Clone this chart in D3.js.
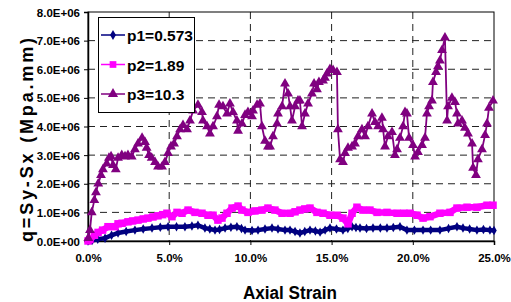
<!DOCTYPE html>
<html><head><meta charset="utf-8">
<script src="https://cdn.jsdelivr.net/npm/d3@7/dist/d3.min.js"></script>
<style>body{margin:0;background:#fff}svg{display:block}text{font-family:Arial,"Liberation Sans",sans-serif;font-weight:bold}</style>
</head><body><svg id="c" width="511" height="302"></svg>
<script>
const xTicks = [0, 5, 10, 15, 20, 25];
const xTickLabels = ["0.0%", "5.0%", "10.0%", "15.0%", "20.0%", "25.0%"];
const yTicks = [0, 1, 2, 3, 4, 5, 6, 7, 8];
const yTickLabels = ["0.0E+00","1.0E+06","2.0E+06","3.0E+06","4.0E+06","5.0E+06","6.0E+06","7.0E+06","8.0E+06"];
const seriesNames = ["p1=0.573", "p2=1.89", "p3=10.3"];
// strain (%) values
const p1Strain = [0,0.25,0.6,1.05,1.45,1.85,2.35,2.89,3.4,3.94,4.45,4.93,5.45,5.97,6.4,6.77,7.2,7.5,7.82,8.1,8.44,8.8,9.17,9.45,9.67,10.1,10.47,10.9,11.33,11.7,12.13,12.44,12.75,13.05,13.35,13.67,14.0,14.29,14.6,14.9,15.3,15.7,16.0,16.26,16.5,16.75,17.15,17.55,18.0,18.41,18.8,19.21,19.64,20.1,20.63,21.1,21.67,22.2,22.72,23.09,23.5,23.95,24.35,24.75,25.0];
const p1Val = [0,0.02,0.06,0.1,0.2,0.28,0.33,0.38,0.42,0.45,0.48,0.5,0.5,0.5,0.52,0.55,0.45,0.42,0.38,0.4,0.45,0.48,0.5,0.44,0.38,0.37,0.38,0.42,0.45,0.42,0.38,0.38,0.33,0.28,0.33,0.38,0.35,0.31,0.38,0.45,0.42,0.38,0.44,0.5,0.47,0.45,0.44,0.45,0.45,0.45,0.47,0.5,0.38,0.38,0.38,0.38,0.38,0.44,0.5,0.45,0.42,0.38,0.4,0.38,0.37];
const p2Strain = [0,0.12,0.4,0.62,0.9,1.23,1.66,1.85,2.1,2.46,2.75,3.08,3.4,3.69,4.0,4.31,4.6,4.86,5.17,5.48,5.79,6.16,6.59,7.02,7.39,7.7,8.0,8.25,8.56,8.87,9.24,9.48,9.85,10.28,10.71,11.08,11.51,11.95,12.44,12.75,13.05,13.35,13.67,14.1,14.47,14.9,15.33,15.7,16.01,16.26,16.56,16.93,17.36,17.8,18.41,19.03,19.45,19.83,20.26,20.63,21.06,21.67,22.29,22.72,23.34,23.95,24.57,24.94];
const p2Val = [0,0.05,0.2,0.3,0.38,0.5,0.5,0.6,0.62,0.67,0.7,0.73,0.77,0.8,0.84,0.88,0.92,0.97,0.85,1.0,0.97,1.08,1.0,0.97,0.9,0.9,0.73,0.8,0.97,1.15,1.22,1.08,1.0,1.05,1.08,1.15,1.08,0.97,0.97,1.02,1.08,1.12,1.15,1.0,0.97,0.9,0.9,0.8,0.6,0.97,1.18,1.08,1.08,1.0,1.0,0.97,0.97,0.97,0.9,0.8,0.85,0.97,1.0,1.15,1.18,1.18,1.25,1.25];
const p3Strain = [0.02,0.12,0.23,0.39,0.49,0.63,0.8,0.92,1.15,1.29,1.42,1.54,1.71,1.85,2.08,2.28,2.46,2.69,2.89,3.08,3.33,3.51,3.61,3.76,3.92,4.13,4.31,4.56,4.74,4.93,5.11,5.3,5.48,5.67,5.85,6.1,6.28,6.47,6.77,7.02,7.08,7.33,7.51,7.7,7.94,8.07,8.31,8.56,8.74,8.93,9.17,9.24,9.48,9.67,9.85,10.1,10.16,10.41,10.59,10.71,10.9,11.08,11.21,11.39,11.64,11.7,11.95,12.13,12.32,12.44,12.56,12.75,12.93,13.05,13.18,13.36,13.55,13.79,13.92,14.1,14.22,14.47,14.59,14.72,14.9,15.09,15.33,15.39,15.52,15.7,15.83,16.01,16.26,16.44,16.63,16.87,17.06,17.24,17.49,17.67,17.86,18.1,18.17,18.29,18.47,18.72,18.9,19.03,19.21,19.4,19.52,19.64,19.77,20.01,20.14,20.32,20.57,20.75,20.87,21.0,21.18,21.24,21.43,21.55,21.67,21.8,21.98,22.11,22.17,22.41,22.6,22.72,22.78,23.03,23.21,23.4,23.65,23.71,23.89,24.01,24.26,24.45,24.57,24.69,24.94];
const p3Val = [0.1,0.38,1.0,1.43,1.7,2.0,2.3,2.5,2.7,2.9,2.95,2.65,2.5,2.9,3.0,2.95,3.0,2.95,3.2,3.4,3.6,3.45,3.25,3.0,2.9,2.75,2.6,2.6,2.75,3.07,3.3,3.4,3.65,3.9,4.05,3.9,4.2,4.55,4.75,4.5,4.2,4.0,3.75,4.0,4.35,4.75,4.7,4.45,4.8,4.5,4.2,3.85,4.1,4.4,4.5,4.35,4.55,4.75,4.8,4.0,3.5,3.3,3.3,3.65,4.1,4.45,4.7,5.5,5.15,4.7,4.2,4.7,4.9,4.9,4.0,4.45,4.8,5.15,5.5,5.3,5.55,5.6,5.7,5.85,6.0,5.97,5.9,3.9,2.85,2.75,3.07,3.25,3.3,3.4,3.65,3.9,3.65,4.0,4.45,4.15,4.0,4.3,3.9,3.3,3.65,3.8,3.0,3.2,3.6,4.0,4.5,4.45,3.6,3.35,2.95,3.1,3.35,3.6,4.45,4.7,4.9,5.55,5.9,6.1,6.3,6.67,7.1,4.2,4.7,5.0,4.85,4.45,4.1,4.2,3.95,3.75,3.4,2.55,2.3,2.85,3.2,3.7,4.1,4.65,4.9];
const colors = ["#000080", "#FF00FF", "#800080"];

const svg = d3.select("#c");
const L = 88, R = 494, T = 12, B = 241;
const x = d3.scaleLinear().domain([0, 25]).range([L, R]);
const y = d3.scaleLinear().domain([0, 8]).range([B, T]);

// gridlines
svg.append("g").selectAll("line").data(yTicks.slice(1, -1)).join("line")
  .attr("x1", L).attr("x2", R).attr("y1", d => y(d)).attr("y2", d => y(d))
  .attr("stroke", "#222").attr("stroke-width", 1).attr("stroke-dasharray", "7,5");
svg.append("g").selectAll("line").data(xTicks.slice(1, -1)).join("line")
  .attr("y1", T).attr("y2", B).attr("x1", d => x(d)).attr("x2", d => x(d))
  .attr("stroke", "#222").attr("stroke-width", 1).attr("stroke-dasharray", "7,5");

// frame
svg.append("rect").attr("x", L).attr("y", T).attr("width", R - L).attr("height", B - T)
  .attr("fill", "none").attr("stroke", "#000").attr("stroke-width", 1);

// axes
const yAxis = d3.axisLeft(y).tickValues(yTicks).tickSize(4).tickFormat((d, i) => yTickLabels[i]);
const gy = svg.append("g").attr("transform", `translate(${L},0)`).call(yAxis);
gy.select(".domain").attr("stroke", "#000").attr("stroke-width", 1.5);
gy.selectAll("text").attr("font-size", "11.5px").attr("fill", "#000").attr("dx", "-1").attr("dy", "0.35em").attr("y", 0);
const xAxis = d3.axisBottom(x).tickValues(xTicks).tickSize(4).tickFormat((d, i) => xTickLabels[i]);
const gx = svg.append("g").attr("transform", `translate(0,${B})`).call(xAxis);
gx.select(".domain").attr("stroke", "#000").attr("stroke-width", 1.5);
gx.selectAll("text").attr("font-size", "11.5px").attr("fill", "#000").attr("y", 13);

// series
const series = [
  {s: p1Strain, v: p1Val, sym: d3.symbolDiamond, size: 26, lw: 4.5},
  {s: p2Strain, v: p2Val, sym: d3.symbolSquare, size: 56, lw: 6.5},
  {s: p3Strain, v: p3Val, sym: d3.symbolTriangle, size: 42, lw: 1.8}
];
const line = d3.line().x(d => x(d[0])).y(d => y(d[1]));
series.forEach((sr, i) => {
  const pts = sr.s.map((s, j) => [s, sr.v[j]]);
  const g = svg.append("g");
  g.append("path").datum(pts).attr("d", line).attr("fill", "none")
    .attr("stroke", colors[i]).attr("stroke-width", sr.lw).attr("stroke-linejoin", "round");
  g.selectAll("path.m").data(pts).join("path").attr("class", "m")
    .attr("d", d3.symbol().type(sr.sym).size(sr.size))
    .attr("transform", d => `translate(${x(d[0])},${y(d[1])})`)
    .attr("fill", colors[i]);
});

// axis titles
svg.append("text").attr("x", 290).attr("y", 299).attr("text-anchor", "middle")
  .attr("font-size", "18px").attr("fill", "#000")
  .attr("textLength", 94).attr("lengthAdjust", "spacingAndGlyphs").text("Axial Strain");
svg.append("text").attr("transform", "translate(33,140) rotate(-90)").attr("text-anchor", "middle")
  .attr("font-size", "18px").attr("fill", "#000")
  .attr("textLength", 204).attr("lengthAdjust", "spacing").text("q=Sy-Sx (Mpa.mm)");

// legend
const lg = svg.append("g");
lg.append("rect").attr("x", 98.5).attr("y", 17.5).attr("width", 96).attr("height", 95)
  .attr("fill", "#fff").attr("stroke", "#000").attr("stroke-width", 1);
const legSizes = [30, 45, 45];
series.forEach((sr, i) => {
  const cy = 35 + i * 29.5;
  lg.append("line").attr("x1", 101).attr("x2", 125).attr("y1", cy).attr("y2", cy)
    .attr("stroke", colors[i]).attr("stroke-width", 1.5);
  lg.append("path").attr("d", d3.symbol().type(sr.sym).size(legSizes[i])())
    .attr("transform", `translate(113,${cy})`).attr("fill", colors[i]);
  lg.append("text").attr("x", 127).attr("y", cy + 6).attr("font-size", "15.5px")
    .attr("fill", "#000").text(seriesNames[i]);
});
</script></body></html>
